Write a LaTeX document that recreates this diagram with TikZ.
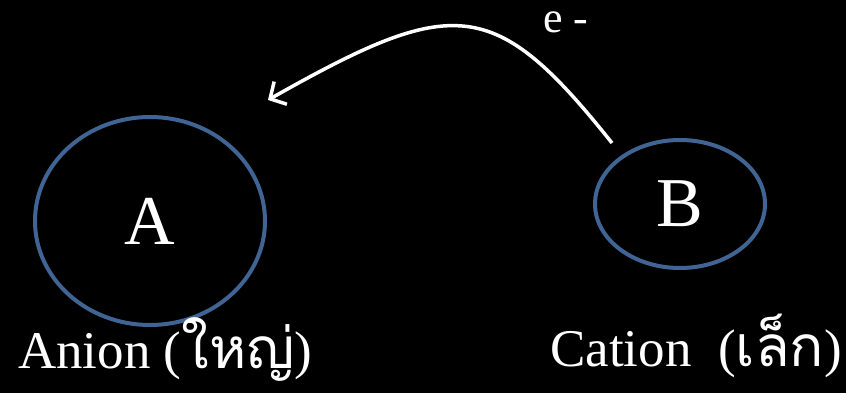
\documentclass[tikz,border=0pt]{standalone}
\usepackage{fontspec}
\setmainfont{Liberation Serif}
\newfontfamily\thaifont[Script=Thai,Scale=1.07]{Loma}
\usetikzlibrary{shapes.geometric,arrows.meta}
\definecolor{ringblue}{RGB}{64,100,148}
\begin{document}
\begin{tikzpicture}[x=1pt,y=-1pt,
  ring/.style={ellipse,draw=ringblue,line width=4pt,inner sep=0pt,text=white},
  lbl/.style={anchor=base west,inner sep=0pt,text=white},
  arr/.style={draw=white,line width=3.5pt,-{Straight Barb[length=12pt,width=26pt,line width=3.5pt]}}]
\fill[black] (0,0) rectangle (846,393);
\useasboundingbox (0,0) rectangle (846,393);
\node[ring,minimum width=230pt,minimum height=208pt,font=\fontsize{70}{80}\selectfont] (A) at (150,221) {A};
\node[ring,minimum width=170pt,minimum height=128pt,font=\fontsize{70}{80}\selectfont] (B) at (680,204) {B};
\node[lbl,font=\fontsize{53}{60}\selectfont] (anion) at (18,368) {Anion ({\thaifont ใหญ่})};
\node[lbl,font=\fontsize{53}{60}\selectfont] (cation) at (550,366) {Cation\ \ ({\thaifont เล็ก})};
\node[lbl,font=\fontsize{44}{50}\selectfont] (e) at (543,33) {e -};
\coordinate (start) at (612,143);
\coordinate (tip) at (268,100);
\draw[arr] (start) .. controls (494,-5) and (454,-5) .. (tip);
\end{tikzpicture}
\end{document}
